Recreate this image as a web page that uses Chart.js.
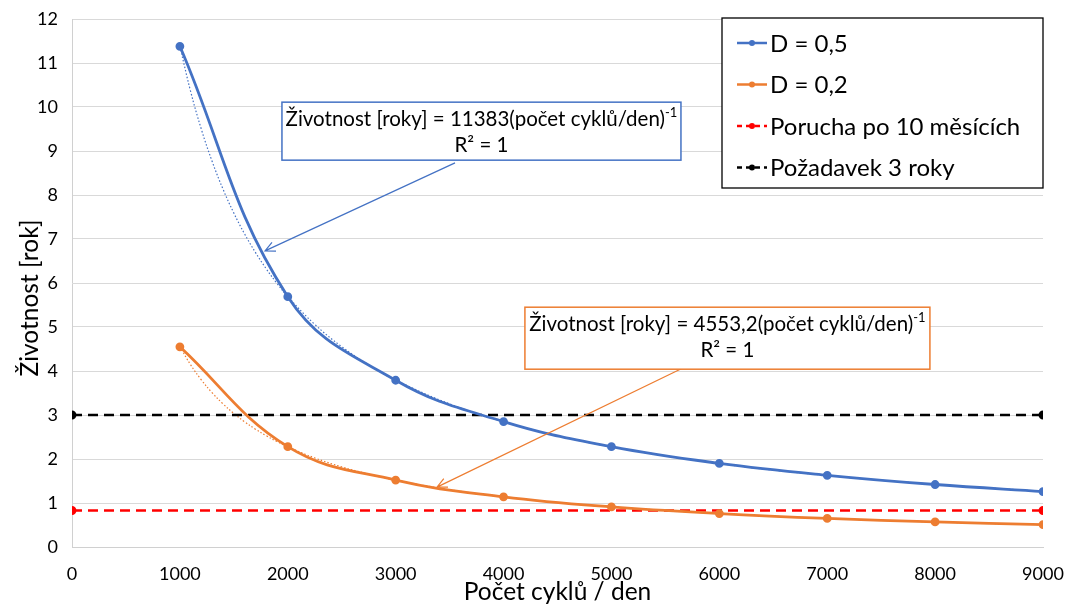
<!DOCTYPE html>
<html>
<head>
<meta charset="utf-8">
<script src="https://cdn.jsdelivr.net/npm/chart.js@4.4.1/dist/chart.umd.min.js"></script>
<style>
  html, body { margin: 0; padding: 0; background: #fff; }
  #wrap { position: relative; width: 1072px; height: 606px; }
</style>
</head>
<body>
<div id="wrap"><canvas id="chart" width="1072" height="606"></canvas></div>
<script>
// cycles per day on the x axis
const cycles = [1000, 2000, 3000, 4000, 5000, 6000, 7000, 8000, 9000];
const lifeD05 = [11.38, 5.69, 3.79, 2.85, 2.28, 1.90, 1.63, 1.42, 1.26];
const lifeD02 = [4.55, 2.28, 1.52, 1.14, 0.91, 0.76, 0.65, 0.57, 0.51];

// horizontal reference lines (start and end points)
const refX = [0, 9000];
const failure10m = [0.83, 0.83];
const require3y = [3, 3];

// power trendlines, sampled along the curve
const trendX = [1000, 1100, 1200, 1300, 1400, 1500, 1600, 1700, 1800, 1900, 2000,
  2250, 2500, 2750, 3000, 3500, 4000, 4500, 5000, 6000, 7000, 8000, 9000];
const trendD05 = [11.383, 10.348, 9.486, 8.756, 8.131, 7.589, 7.114, 6.696, 6.324, 5.991, 5.692,
  5.059, 4.553, 4.139, 3.794, 3.252, 2.846, 2.530, 2.277, 1.897, 1.626, 1.423, 1.265];
const trendD02 = [4.553, 4.139, 3.794, 3.502, 3.252, 3.035, 2.846, 2.678, 2.530, 2.396, 2.277,
  2.024, 1.821, 1.656, 1.518, 1.301, 1.138, 1.012, 0.911, 0.759, 0.650, 0.569, 0.506];

const yTicks = [0, 1, 2, 3, 4, 5, 6, 7, 8, 9, 10, 11, 12];
const xTicks = [0, 1000, 2000, 3000, 4000, 5000, 6000, 7000, 8000, 9000];

const BLUE = '#4472C4';
const ORANGE = '#ED7D31';
const FONT = 'Lato, "Open Sans", sans-serif';

const pts = (xs, ys) => xs.map((x, i) => ({ x, y: ys[i] }));

// trendline equation boxes with arrows, in data units
const labels = [
  {
    color: BLUE, coef: '11383',
    box: { x: 1946, y: 10.11, w: 399, h: 58 },
    from: { x: 3550, y: 8.73 }, to: { x: 1789, y: 6.73 }
  },
  {
    color: ORANGE, coef: '4553,2',
    box: { x: 4198, y: 5.45, w: 405, h: 62 },
    from: { x: 5681, y: 4.09 }, to: { x: 3383, y: 1.36 }
  }
];

const legendItems = [
  { text: 'D = 0,5', color: BLUE, dashed: false },
  { text: 'D = 0,2', color: ORANGE, dashed: false },
  { text: 'Porucha po 10 měsících', color: '#FF0000', dashed: true },
  { text: 'Požadavek 3 roky', color: '#000000', dashed: true }
];

function drawArrow(ctx, x1, y1, x2, y2, color) {
  const ang = Math.atan2(y2 - y1, x2 - x1);
  const h = 11;
  ctx.save();
  ctx.strokeStyle = color;
  ctx.lineWidth = 1.2;
  ctx.beginPath();
  ctx.moveTo(x1, y1);
  ctx.lineTo(x2, y2);
  ctx.moveTo(x2 - h * Math.cos(ang - 0.45), y2 - h * Math.sin(ang - 0.45));
  ctx.lineTo(x2, y2);
  ctx.lineTo(x2 - h * Math.cos(ang + 0.45), y2 - h * Math.sin(ang + 0.45));
  ctx.stroke();
  ctx.restore();
}

const overlayPlugin = {
  id: 'overlay',
  afterDatasetsDraw(chart) {
    const { ctx, scales: { x, y }, chartArea } = chart;

    // equation labels
    labels.forEach(l => {
      drawArrow(ctx, x.getPixelForValue(l.from.x), y.getPixelForValue(l.from.y),
        x.getPixelForValue(l.to.x), y.getPixelForValue(l.to.y), l.color);
      const bx = x.getPixelForValue(l.box.x);
      const by = y.getPixelForValue(l.box.y);
      ctx.save();
      ctx.fillStyle = '#fff';
      ctx.fillRect(bx, by, l.box.w, l.box.h);
      ctx.strokeStyle = l.color;
      ctx.lineWidth = 1.5;
      ctx.strokeRect(bx, by, l.box.w, l.box.h);

      const main = 'Životnost [roky] = ' + l.coef + '(počet cyklů/den)';
      ctx.font = '20.5px ' + FONT;
      const mw = ctx.measureText(main).width;
      ctx.font = '13px ' + FONT;
      const sw = ctx.measureText('-1').width;
      const cx = bx + l.box.w / 2;
      const startX = cx - (mw + sw) / 2;
      ctx.fillStyle = '#000';
      ctx.textBaseline = 'alphabetic';
      ctx.textAlign = 'left';
      ctx.font = '20.5px ' + FONT;
      ctx.fillText(main, startX, by + 24);
      ctx.font = '13px ' + FONT;
      ctx.fillText('-1', startX + mw, by + 15);
      ctx.font = '20.5px ' + FONT;
      ctx.textAlign = 'center';
      ctx.fillText('R² = 1', cx, by + 50);
      ctx.restore();
    });

    // legend box
    const lx = 722, ly = 18, lw = 321, lh = 170;
    ctx.save();
    ctx.fillStyle = '#fff';
    ctx.fillRect(lx, ly, lw, lh);
    ctx.strokeStyle = '#000';
    ctx.lineWidth = 1.3;
    ctx.strokeRect(lx, ly, lw, lh);
    legendItems.forEach((it, i) => {
      const cy = ly + 25 + i * 41.5;
      ctx.strokeStyle = it.color;
      ctx.lineWidth = 2.5;
      ctx.setLineDash(it.dashed ? [5, 4] : []);
      ctx.beginPath();
      ctx.moveTo(lx + 15, cy);
      ctx.lineTo(lx + 45, cy);
      ctx.stroke();
      ctx.setLineDash([]);
      ctx.fillStyle = it.color;
      ctx.beginPath();
      ctx.arc(lx + 30, cy, 3, 0, Math.PI * 2);
      ctx.fill();
      ctx.fillStyle = '#000';
      ctx.font = '24px ' + FONT;
      ctx.textBaseline = 'middle';
      ctx.textAlign = 'left';
      ctx.fillText(it.text, lx + 48, cy + 1);
    });
    ctx.restore();

    // axis titles
    ctx.save();
    ctx.fillStyle = '#000';
    ctx.font = '24.5px ' + FONT;
    ctx.textAlign = 'center';
    ctx.textBaseline = 'middle';
    ctx.fillText('Počet cyklů / den', (chartArea.left + chartArea.right) / 2, 592);
    ctx.translate(30, 298);
    ctx.rotate(-Math.PI / 2);
    ctx.fillText('Životnost [rok]', 0, 0);
    ctx.restore();
  }
};

const solid = (label, data, color) => ({
  label, data, borderColor: color, backgroundColor: color,
  borderWidth: 2.8, pointRadius: 3, pointHoverRadius: 3,
  tension: 0.4, fill: false
});
const dashed = (label, data, color) => ({
  label, data, borderColor: color, backgroundColor: color,
  borderWidth: 2.5, borderDash: [10, 6], pointRadius: 3.2, tension: 0, fill: false
});
const trend = (label, data, color) => ({
  label, data, borderColor: color, borderWidth: 1.2, borderDash: [1.5, 2],
  pointRadius: 0, tension: 0.4, fill: false
});

new Chart(document.getElementById('chart'), {
  type: 'line',
  data: {
    datasets: [
      solid('D = 0,5', pts(cycles, lifeD05), BLUE),
      solid('D = 0,2', pts(cycles, lifeD02), ORANGE),
      dashed('Porucha po 10 měsících', pts(refX, failure10m), '#FF0000'),
      dashed('Požadavek 3 roky', pts(refX, require3y), '#000000'),
      trend('Trend D = 0,5', pts(trendX, trendD05), BLUE),
      trend('Trend D = 0,2', pts(trendX, trendD02), ORANGE)
    ]
  },
  options: {
    responsive: false,
    animation: false,
    devicePixelRatio: 1,
    layout: { padding: { left: 0, right: 29, top: 19, bottom: 0 } },
    plugins: { legend: { display: false }, tooltip: { enabled: false } },
    scales: {
      x: {
        type: 'linear', min: 0, max: 9000,
        afterBuildTicks: axis => { axis.ticks = xTicks.map(v => ({ value: v })); },
        afterFit: axis => { axis.height = 59; axis.paddingLeft = 0; axis.paddingRight = 0; },
        grid: { display: false, drawTicks: false },
        border: { display: true, color: '#d0d0d0', width: 1 },
        ticks: {
          color: '#000', font: { family: FONT, size: 18 }, padding: 16,
          maxRotation: 0, autoSkip: false, callback: v => String(v)
        }
      },
      y: {
        min: 0, max: 12,
        afterBuildTicks: axis => { axis.ticks = yTicks.map(v => ({ value: v })); },
        afterFit: axis => { axis.width = 72; axis.paddingTop = 0; axis.paddingBottom = 0; },
        grid: { color: '#d9d9d9', drawTicks: false },
        border: { display: true, color: '#d0d0d0', width: 1 },
        ticks: { color: '#000', font: { family: FONT, size: 18 }, padding: 14, autoSkip: false }
      }
    }
  },
  plugins: [overlayPlugin]
});
</script>
</body>
</html>
